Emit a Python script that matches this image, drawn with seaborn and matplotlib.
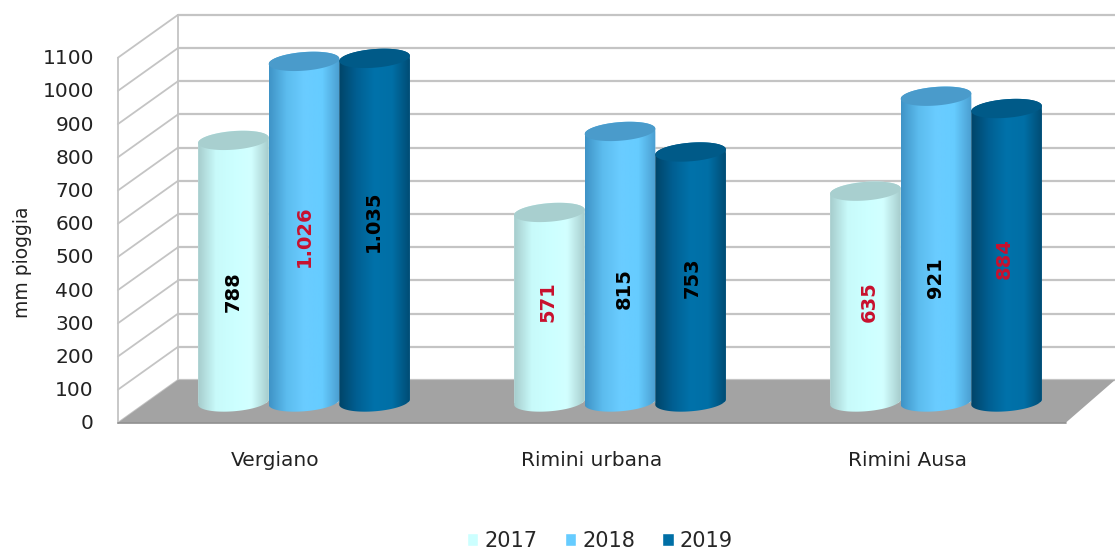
import numpy as np
import pandas as pd
import matplotlib.pyplot as plt
import seaborn as sns
from matplotlib.colors import LinearSegmentedColormap
from matplotlib.path import Path

stazioni = ["Vergiano", "Rimini urbana", "Rimini Ausa"]
anni = ["2017", "2018", "2019"]
pioggia_2017 = [788, 571, 635]
pioggia_2018 = [1026, 815, 921]
pioggia_2019 = [1035, 753, 884]
etichette = ["788", "571", "635", "1.026", "815", "921", "1.035", "753", "884"]
colori_etichette = ["black", "#c8102e", "#c8102e", "#c8102e", "black", "black", "black", "black", "#c8102e"]
tick_valori = list(range(0, 1101, 100))

# where the hand-placed labels sit along each bar, and their sideways nudge
etichette_y = [331, 301, 301, 500, 343, 376, 545, 373, 431]
etichette_dx = [0, -0.004, 0.012, 0, 0.012, 0, -0.003, 0.006, -0.006]

colori = ["#ccffff", "#66ccff", "#006fa6"]
colori_top = ["#a8cfcf", "#4a9bcb", "#005a88"]
sfumature = [
    ["#a6cccc", "#c8fafa", "#ccffff", "#d2ffff", "#a6cccc"],
    ["#3f93c6", "#5cbcee", "#6accff", "#66ccff", "#4a9dcf"],
    ["#004468", "#005f92", "#0072aa", "#006fa6", "#004c74"],
]

df = pd.DataFrame({
    "Stazione": stazioni * 3,
    "Anno": np.repeat(anni, 3),
    "mm": pioggia_2017 + pioggia_2018 + pioggia_2019,
})

sns.set_theme(style="white")
plt.rcParams['font.family'] = ['DejaVu Sans']

fig = plt.figure(figsize=(11.15, 5.53), dpi=100)
ax = fig.add_axes([0, 0, 1, 1])

sns.barplot(data=df, x="Stazione", y="mm", hue="Anno", palette=colori,
            width=0.67, gap=0, saturation=1, ax=ax, zorder=3)

# 3d box: front plane sits below the bars' plane, back wall above it
FRONTE = -63
RETRO = 66
X_FRONTE = -0.589
X_RETRO = -0.399
X_FINE = 2.566
X_FINE_FRONTE = 2.41
griglia = "#c4c4c4"

ax.fill([X_FRONTE, X_RETRO, X_FINE, X_FINE_FRONTE], [FRONTE, RETRO, RETRO, FRONTE],
        color="#a3a3a3", lw=0, zorder=2)
ax.plot([X_FRONTE, X_FINE_FRONTE], [FRONTE, FRONTE], color="#8f8f8f", lw=1.2, zorder=2)
for v in tick_valori:
    ax.plot([X_RETRO, X_FINE], [v + RETRO, v + RETRO], color=griglia, lw=1.6, zorder=1)
    ax.plot([X_FRONTE, X_RETRO], [v + FRONTE, v + RETRO], color=griglia, lw=1.3, zorder=1)
    ax.text(-0.665, v + FRONTE - 3, str(v), ha="right", va="center", fontsize=14.5, color="#222222")
ax.plot([X_FRONTE, X_FRONTE], [FRONTE, 1100 + FRONTE], color=griglia, lw=1.3, zorder=1)
ax.plot([X_RETRO, X_RETRO], [RETRO, 1100 + RETRO], color=griglia, lw=1.3, zorder=1)

# turn the flat bars into cylinders
t_su = np.linspace(np.pi, 0, 60)
t_giu = np.linspace(0, -np.pi, 60)
B = 28
TILT = 8
ordine = 0
for n, cont in enumerate(ax.containers):
    cmap = LinearSegmentedColormap.from_list("c%d" % n, sfumature[n])
    for bar in cont:
        a = bar.get_width() / 2
        cx = bar.get_x() + a
        h = bar.get_height()
        xs = np.r_[cx + a * np.cos(t_su), cx + a * np.cos(t_giu)]
        ys = np.r_[h + B * np.sin(t_su) + TILT * np.cos(t_su),
                   B * np.sin(t_giu) + TILT * np.cos(t_giu)]
        contorno = Path(np.column_stack([xs, ys]))
        bar.set_clip_path(contorno, ax.transData)
        im = ax.imshow(np.linspace(0, 1, 256)[None, :], cmap=cmap, aspect="auto",
                       extent=(cx - a, cx + a, -60, h + 60), zorder=3 + n * 0.1)
        im.set_clip_path(contorno, ax.transData)
        t = np.linspace(0, 2 * np.pi, 120)
        ax.fill(cx + a * np.cos(t), h + B * np.sin(t) + TILT * np.cos(t),
                color=colori_top[n], lw=0, zorder=3.05 + n * 0.1)
        ax.text(cx + etichette_dx[ordine], etichette_y[ordine], etichette[ordine],
                rotation=90, ha="center", va="center", fontsize=14, fontweight="bold",
                color=colori_etichette[ordine], zorder=5)
        ordine += 1

for i, s in enumerate(stazioni):
    ax.text(i - 0.09, -175, s, ha="center", va="center", fontsize=14.5, color="#222222")

ax.text(-0.89, 420, "mm pioggia", rotation=90, ha="center", va="center", fontsize=13.5, color="#222222")

sns.move_legend(ax, loc="center", bbox_to_anchor=(0.538, 0.022), ncols=3, frameon=False,
                title=None, fontsize=15, handlelength=0.55, handleheight=0.55,
                handletextpad=0.3, columnspacing=1.3)

ax.set_xlim(-304 / 316, 811 / 316)
ax.set_ylim(-151 / 0.332, 402 / 0.332)
ax.set_axis_off()

plt.savefig("out.png", dpi=100)
